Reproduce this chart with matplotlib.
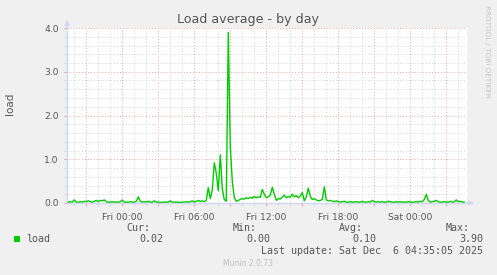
import numpy as np
import matplotlib
matplotlib.use("Agg")
import matplotlib.pyplot as plt
from matplotlib.patches import Rectangle

# load average, one value every 10 minutes from Thu 19:30 to Sat 04:30
# (hours are counted from Fri 00:00)
start_hour = -4.5
load = [
    0.02, 0.03, 0.02, 0.07, 0.02, 0.02, 0.03, 0.02, 0.04, 0.03, 0.05, 0.03,
    0.02, 0.04, 0.06, 0.03, 0.06, 0.05, 0.07, 0.03, 0.02, 0.02, 0.03, 0.02,
    0.02, 0.02, 0.03, 0.07, 0.02, 0.02, 0.02, 0.03, 0.02, 0.02, 0.04, 0.14,
    0.04, 0.02, 0.03, 0.02, 0.04, 0.02, 0.02, 0.05, 0.02, 0.02, 0.01, 0.02,
    0.02, 0.02, 0.02, 0.05, 0.02, 0.02, 0.02, 0.02, 0.01, 0.02, 0.02, 0.03,
    0.02, 0.03, 0.05, 0.02, 0.04, 0.06, 0.03, 0.05, 0.03, 0.06, 0.35, 0.10,
    0.30, 0.92, 0.68, 0.28, 1.10, 0.32, 0.08, 0.04, 3.90, 1.28, 0.50, 0.12,
    0.04, 0.06, 0.08, 0.10, 0.09, 0.12, 0.10, 0.13, 0.11, 0.15, 0.12, 0.14,
    0.13, 0.31, 0.20, 0.12, 0.14, 0.18, 0.36, 0.20, 0.06, 0.10, 0.09, 0.14,
    0.18, 0.12, 0.15, 0.13, 0.20, 0.14, 0.17, 0.12, 0.16, 0.24, 0.05, 0.14,
    0.34, 0.15, 0.08, 0.10, 0.07, 0.05, 0.06, 0.08, 0.37, 0.07, 0.05, 0.06,
    0.04, 0.03, 0.05, 0.03, 0.02, 0.03, 0.04, 0.02, 0.02, 0.03, 0.02, 0.02,
    0.03, 0.02, 0.02, 0.04, 0.02, 0.02, 0.03, 0.02, 0.06, 0.03, 0.02, 0.03,
    0.02, 0.03, 0.02, 0.02, 0.04, 0.03, 0.02, 0.02, 0.03, 0.02, 0.03, 0.02,
    0.02, 0.02, 0.03, 0.02, 0.02, 0.02, 0.03, 0.02, 0.04, 0.03, 0.08, 0.20,
    0.06, 0.02, 0.03, 0.04, 0.06, 0.03, 0.02, 0.02, 0.03, 0.02, 0.02, 0.04,
    0.02, 0.03, 0.07, 0.03, 0.04, 0.02, 0.02,
]
hours = start_hour + np.arange(len(load)) / 6.0

tick_hours = [0, 6, 12, 18, 24]
tick_labels = ["Fri 00:00", "Fri 06:00", "Fri 12:00", "Fri 18:00", "Sat 00:00"]

legend_names = ["Cur:", "Min:", "Avg:", "Max:"]
legend_values = ["0.02", "0.00", "0.10", "3.90"]

W, H = 497, 275
text_col = "#555555"
mgrid = "#e3a3a3"
grid = "#d2d2d2"
axis_col = "#cfd6f8"

fig = plt.figure(figsize=(W / 100, H / 100), dpi=100, facecolor="#f0f0f0")
ax = fig.add_axes([67 / W, (H - 203) / H, 400 / W, 175 / H])
ax.set_facecolor("white")

ax.plot(hours, load, color="#00cc00", lw=1.0, zorder=3)

ax.set_xlim((67 - 122.3) / 12, (467 - 122.3) / 12)
ax.set_ylim(0, 4.0)

# x grid: red every 3 hours, grey every hour
ax.set_xticks(np.arange(-3, 28, 3))
ax.set_xticklabels([tick_labels[tick_hours.index(h)] if h in tick_hours else ""
                    for h in range(-3, 28, 3)])
ax.set_xticks(np.arange(-4, 29, 1), minor=True)
ax.set_yticks(np.arange(0, 4.01, 1.0))
ax.set_yticklabels(["%.1f" % v for v in np.arange(0, 4.01, 1.0)])
ax.set_yticks(np.arange(0, 4.01, 0.2), minor=True)

ax.grid(which="minor", color=grid, linestyle=(0, (1, 2)), lw=0.7)
ax.grid(which="major", color=mgrid, linestyle=(0, (1, 2)), lw=0.7)
ax.tick_params(which="major", length=2, color=mgrid, labelsize=6.6,
               labelcolor=text_col, pad=4)
ax.tick_params(which="minor", length=2, color=grid)
ax.tick_params(axis="x", pad=5)

for s in ["top", "right"]:
    ax.spines[s].set_visible(False)
for s in ["left", "bottom"]:
    ax.spines[s].set_color(axis_col)
    ax.spines[s].set_linewidth(1.0)

# little arrows at the ends of the axes
ax.annotate("", xy=(0, 1 + 8 / 175), xytext=(0, 1), xycoords="axes fraction",
            arrowprops=dict(arrowstyle="-|>", color=axis_col, lw=1,
                            mutation_scale=7, shrinkA=0, shrinkB=0))
ax.annotate("", xy=(1 + 7 / 400, 0), xytext=(1, 0), xycoords="axes fraction",
            arrowprops=dict(arrowstyle="-|>", color=axis_col, lw=1,
                            mutation_scale=7, shrinkA=0, shrinkB=0))

fig.text(10 / W, 1 - 104 / H, "load", rotation=90, ha="center", va="center",
         fontsize=7.5, color=text_col)

fig.text(248 / W, 1 - 20 / H, "Load average - by day", ha="center",
         va="center", fontsize=9.1, color=text_col)
fig.text(487 / W, 1 - 5 / H, "RRDTOOL / TOBI OETIKER", rotation=270,
         ha="center", va="top", fontsize=5.2, color="#c4c4c4")

# legend block
mono = "DejaVu Sans Mono"
fig.add_artist(Rectangle((14, H - 242), 6, 6, transform=None,
                         facecolor="#00cc00", edgecolor="none"))
fig.text(26 / W, 1 - 239 / H, "load", ha="left", va="center",
         family=mono, fontsize=7.2, color=text_col)
name_x = [150, 257, 363, 470]
val_x = [163, 270, 376, 483]
for nx, vx, name, val in zip(name_x, val_x, legend_names, legend_values):
    fig.text(nx / W, 1 - 228 / H, name, ha="right", va="center",
             family=mono, fontsize=7.2, color=text_col)
    fig.text(vx / W, 1 - 239 / H, val, ha="right", va="center",
             family=mono, fontsize=7.2, color=text_col)
fig.text(483 / W, 1 - 251.5 / H, "Last update: Sat Dec  6 04:35:05 2025",
         ha="right", va="center", family=mono, fontsize=7.2, color=text_col)
fig.text(248 / W, 1 - 264 / H, "Munin 2.0.73", ha="center", va="center",
         fontsize=5.5, color="#c0c0c0")

fig.savefig("out.png", dpi=100, facecolor=fig.get_facecolor())
